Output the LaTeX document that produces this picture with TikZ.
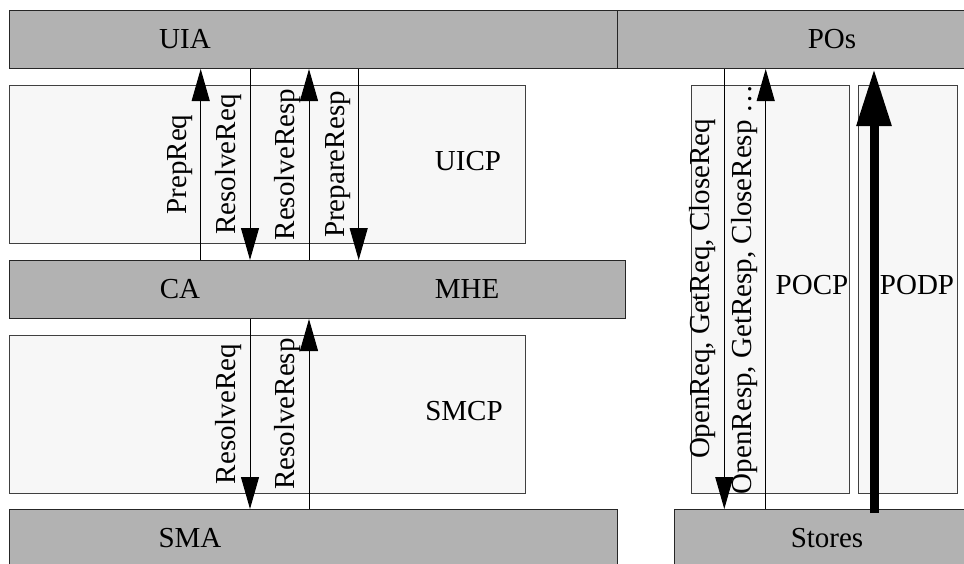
\documentclass[tikz,border=0pt]{standalone}
\usepackage{fontspec}
\setmainfont{Liberation Serif}
\usetikzlibrary{arrows.meta}

\begin{document}
\begin{tikzpicture}[x=1pt,y=-1pt,
    bar/.style={draw=black!85, fill=black!30, line width=1pt, inner sep=0pt, anchor=north west},
    pane/.style={draw=black!75, fill=black!3, line width=1pt, inner sep=0pt, anchor=north west},
    msg/.style={line width=1pt, -{Triangle[width=18pt,length=32pt]}},
    bulk/.style={line width=9pt, -{Triangle[width=33pt,length=57pt]}},
    lbl/.style={font=\fontsize{29}{33}\selectfont, inner sep=0pt},
    vlbl/.style={font=\fontsize{29}{33}\selectfont, inner sep=8pt, rotate=90, anchor=south, midway}]
    \useasboundingbox (0,0) rectangle (964,563);
    \clip (0,0) rectangle (964,563);
    % obere Leiste:
    \node[bar, minimum width=607.7pt, minimum height=58pt] (uia) at (9,10) {};
    \node[bar, minimum width=400pt, minimum height=58pt] (pos) at (616.7,10) {};
    % Kontrollebenen:
    \node[pane, minimum width=516pt, minimum height=158pt] (uicp) at (9,85) {};
    \node[bar, minimum width=616pt, minimum height=58pt] (ca) at (9,260) {};
    \node[pane, minimum width=516pt, minimum height=157.7pt] (smcp) at (9,335) {};
    \node[pane, minimum width=158.3pt, minimum height=407.7pt] (pocp) at (691,85) {};
    \node[pane, minimum width=99.3pt, minimum height=407.7pt] (podp) at (857.7,85) {};
    % untere Leiste:
    \node[bar, minimum width=607.7pt, minimum height=58pt] (sma) at (9,509) {};
    \node[bar, minimum width=400pt, minimum height=58pt] (stores) at (674.3,509) {};
    % Beschriftungen:
    \node[lbl] (uiatxt) at (185,39) {UIA};
    \node[lbl] (postxt) at (832,39) {POs};
    \node[lbl] (uicptxt) at (468,161) {UICP};
    \node[lbl] (catxt) at (180,289) {CA};
    \node[lbl] (mhetxt) at (467,289) {MHE};
    \node[lbl] (smcptxt) at (464,411) {SMCP};
    \node[lbl] (pocptxt) at (812,285) {POCP};
    \node[lbl] (podptxt) at (917,285) {PODP};
    \node[lbl] (smatxt) at (190,538) {SMA};
    \node[lbl] (storestxt) at (827,538) {Stores};
    % x-Lagen der Pfeile:
    \coordinate (xprep) at (200.7,0);
    \coordinate (xreq) at (250,0);
    \coordinate (xresp) at (309,0);
    \coordinate (xprepresp) at (358.7,0);
    \coordinate (xopen) at (724.3,0);
    \coordinate (xopenresp) at (765.7,0);
    \coordinate (xbulk) at (874,0);
    % UIA <-> CA/MHE:
    \draw[msg] (ca.north -| xprep) -- node[vlbl] {PrepReq} (uia.south -| xprep);
    \draw[msg] (uia.south -| xreq) -- node[vlbl] {ResolveReq} (ca.north -| xreq);
    \draw[msg] (ca.north -| xresp) -- node[vlbl] {ResolveResp} (uia.south -| xresp);
    \draw[msg] (uia.south -| xprepresp) -- node[vlbl] {PrepareResp} (ca.north -| xprepresp);
    % CA <-> SMA:
    \draw[msg] (ca.south -| xreq) -- node[vlbl] {ResolveReq} (sma.north -| xreq);
    \draw[msg] (sma.north -| xresp) -- node[vlbl] {ResolveResp} (ca.south -| xresp);
    % POs <-> Stores:
    \draw[msg] (pos.south -| xopen) -- node[vlbl] {OpenReq, GetReq, CloseReq} (stores.north -| xopen);
    \draw[msg] (stores.north -| xopenresp) -- node[vlbl] {OpenResp, GetResp, CloseResp \ldots} (pos.south -| xopenresp);
    \draw[bulk] ([yshift=-4pt]stores.north -| xbulk) -- (pos.south -| xbulk); % Datenpfad
\end{tikzpicture}
\end{document}
